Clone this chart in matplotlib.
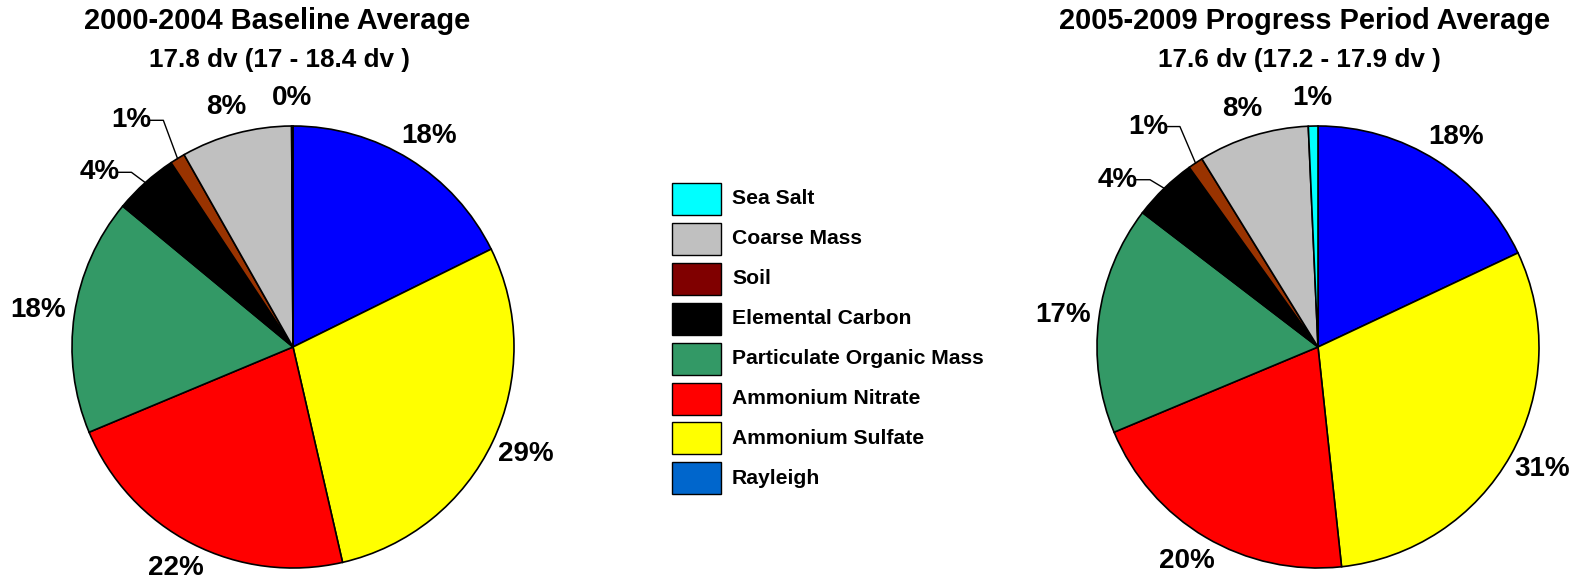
import matplotlib
matplotlib.use('Agg')
import matplotlib.pyplot as plt
import numpy as np
from matplotlib.patches import Rectangle

plt.rcParams['font.family'] = ['Liberation Sans', 'DejaVu Sans']
plt.rcParams['font.weight'] = 'bold'

# species in pie order (clockwise from 12 o'clock)
species = ["Rayleigh", "Ammonium Sulfate", "Ammonium Nitrate", "Particulate Organic Mass",
           "Elemental Carbon", "Soil", "Coarse Mass", "Sea Salt"]
pie_colors = ["#0000FF", "#FFFF00", "#FF0000", "#339966", "#000000", "#993300", "#C0C0C0", "#00FFFF"]
legend_colors = ["#0066CC", "#FFFF00", "#FF0000", "#339966", "#000000", "#800000", "#C0C0C0", "#00FFFF"]

# wedge sizes (percent) and the labels printed on the chart
baseline_pct = [17.7, 28.7, 22.3, 17.3, 4.7, 1.1, 8.1, 0.1]
baseline_lbl = ["18%", "29%", "22%", "18%", "4%", "1%", "8%", "0%"]
progress_pct = [18.0, 30.3, 20.4, 16.7, 4.7, 1.1, 8.1, 0.7]
progress_lbl = ["18%", "31%", "20%", "17%", "4%", "1%", "8%", "1%"]

titles = ["2000-2004 Baseline Average", "2005-2009 Progress Period Average"]
subtitles = ["17.8 dv (17 - 18.4 dv )", "17.6 dv (17.2 - 17.9 dv )"]

W, H = 1588, 587
fig = plt.figure(figsize=(W / 100, H / 100), dpi=100)

R = 221.0   # pie radius in pixels
K = 1.35    # axes half-range in data units


def pie_axes(cx, cy):
    s = K * R
    return fig.add_axes([(cx - s) / W, (H - cy - s) / H, 2 * s / W, 2 * s / H])


def draw_pie(ax, vals, labels):
    wedges, _ = ax.pie(vals, colors=pie_colors, startangle=90, counterclock=False,
                       radius=1.0, wedgeprops=dict(edgecolor='black', linewidth=1.2))
    ax.set_xlim(-K, K)
    ax.set_ylim(-K, K)
    ax.set_aspect('equal')
    ax.axis('off')
    for w in wedges:
        w.set_clip_on(False)
    total = float(sum(vals))
    cum = 0.0
    for i, v in enumerate(vals):
        mid = (cum + v / 2) / total * 360.0   # clockwise from top
        cum += v
        th = np.radians(mid)
        dx, dy = np.sin(th), np.cos(th)
        if i in (4, 5):
            # small slices: label pulled out with a leader line
            shift, rr = (6, 1.18) if i == 4 else (4, 1.26)
            la = np.radians(mid - shift)
            lx, ly = rr * np.sin(la), rr * np.cos(la)
            ax.plot([lx + 0.085, lx + 0.145, dx], [ly, ly, dy], color='black', lw=1.0, clip_on=False)
            ax.text(lx, ly, labels[i], ha='center', va='center', fontsize=20, fontweight='bold')
        else:
            # label box sits just outside the rim
            tx = dx * 1.04 + dx * 0.125
            ty = dy * 1.04 + dy * 0.085
            ax.text(tx, ty, labels[i], ha='center', va='center', fontsize=20, fontweight='bold')


ax1 = pie_axes(293, 347)
draw_pie(ax1, baseline_pct, baseline_lbl)
ax2 = pie_axes(1318, 347)
draw_pie(ax2, progress_pct, progress_lbl)

fig.text(277.5 / W, 1 - 29 / H, titles[0], ha='center', va='baseline', fontsize=20.9, fontweight='bold')
fig.text(279.5 / W, 1 - 67 / H, subtitles[0], ha='center', va='baseline', fontsize=18.8, fontweight='bold')
fig.text(1305 / W, 1 - 29 / H, titles[1], ha='center', va='baseline', fontsize=20.9, fontweight='bold')
fig.text(1299 / W, 1 - 67 / H, subtitles[1], ha='center', va='baseline', fontsize=18.8, fontweight='bold')

# legend drawn by hand in pixel coordinates (reverse order of pie)
lax = fig.add_axes([0, 0, 1, 1])
lax.set_xlim(0, W)
lax.set_ylim(H, 0)
lax.axis('off')
for k, (name, col) in enumerate(zip(species[::-1], legend_colors[::-1])):
    top = 183 + 39.9 * k
    lax.add_patch(Rectangle((672, top), 49, 32, facecolor=col, edgecolor='black', linewidth=1.0))
    lax.text(732, top + 16, name, ha='left', va='center', fontsize=15.2, fontweight='bold')

fig.savefig('out.png', dpi=100)
